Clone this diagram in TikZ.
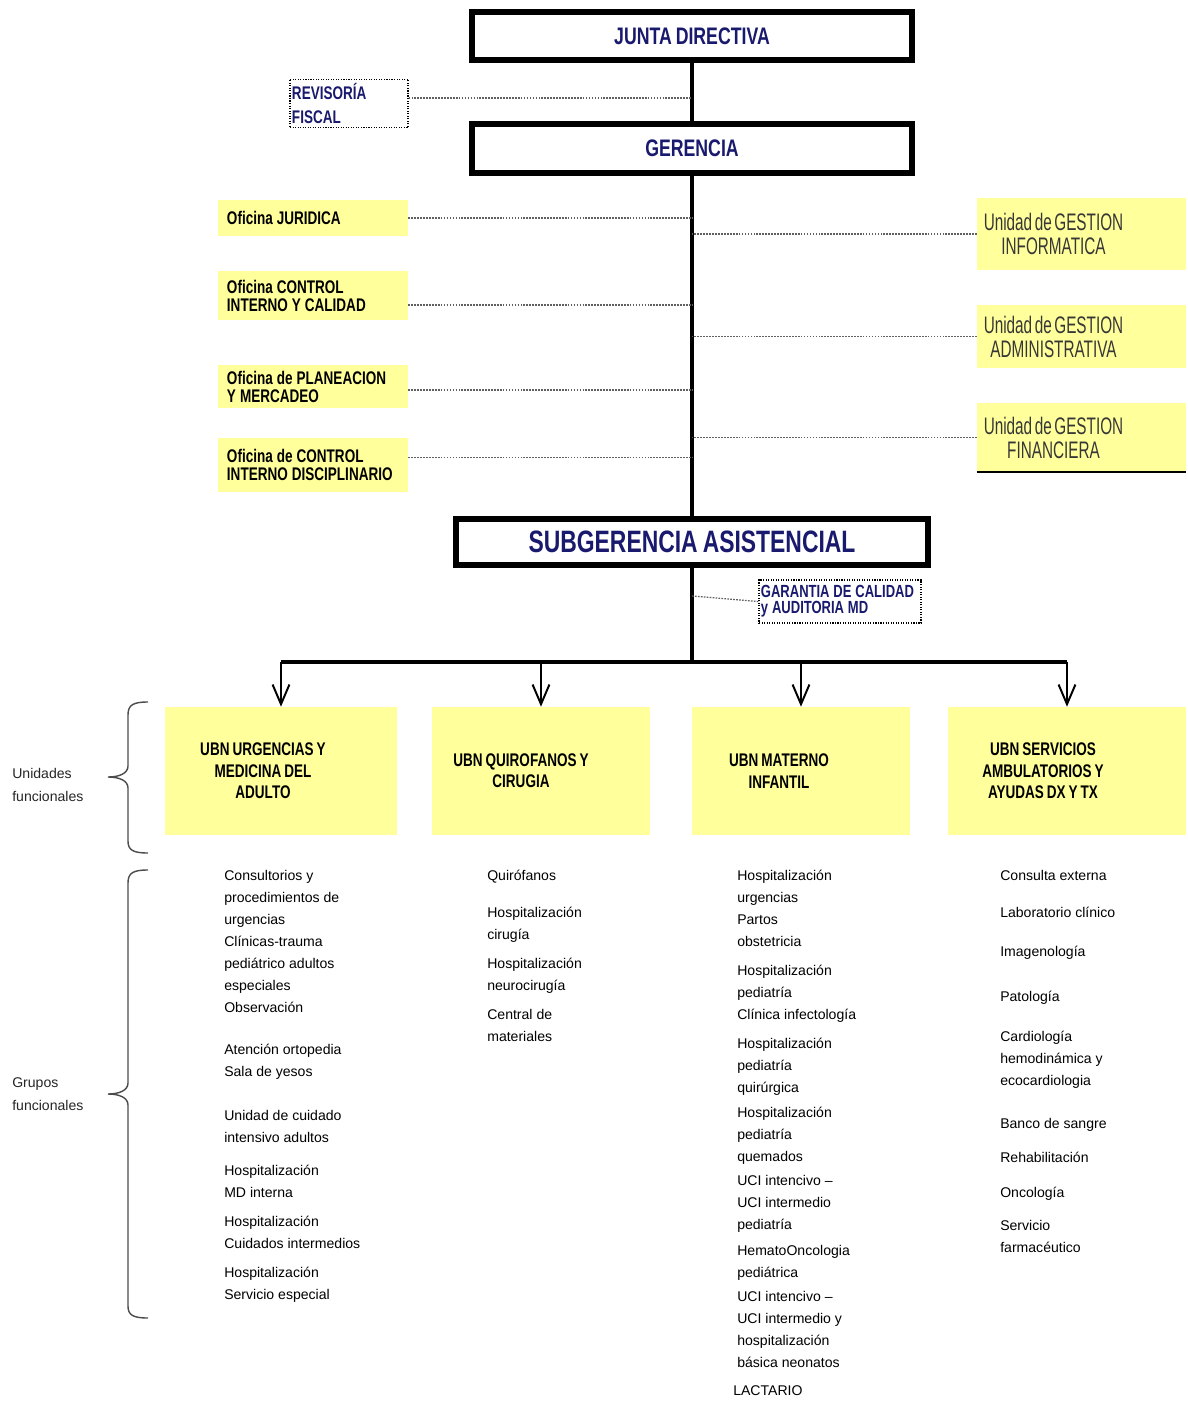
\documentclass[tikz,border=0pt]{standalone}
\usepackage{fontspec}
\setmainfont{Liberation Sans}
\newfontfamily\condfont[FakeStretch=0.74, WordSpace=0.8]{Liberation Sans}
\newfontfamily\unitfont[FakeStretch=0.64, WordSpace=0.6]{Liberation Sans}
\usetikzlibrary{arrows.meta}
\definecolor{navytext}{RGB}{25,25,110}
\definecolor{boxyellow}{RGB}{255,255,155}
\definecolor{unitgray}{RGB}{55,55,55}

\begin{document}
\begin{tikzpicture}
        [
            x                       = 0.025cm,
            y                       = -0.025cm,
            headbox/.style          = {shape=rectangle, draw, line width=4.3pt, fill=white, text=navytext,
                                       font=\condfont\bfseries\fontsize{17}{17}\selectfont,
                                       path picture={\fill (path picture bounding box.north west) rectangle ([yshift=-4.5pt]path picture bounding box.north east);
                                                     \fill (path picture bounding box.south west) rectangle ([yshift=4.5pt]path picture bounding box.south east);}},
            dashbox/.style          = {shape=rectangle, draw, densely dotted, line width=0.8pt, inner xsep=1pt, align=left, text=navytext,
                                       execute at begin node={\spaceskip=0.22em\relax}},
            officebox/.style        = {shape=rectangle, fill=boxyellow, minimum width=4.75cm, text width=4.3cm, align=left, inner sep=0pt,
                                       font=\condfont\bfseries\fontsize{13}{12.8}\selectfont, execute at begin node={\spaceskip=0.22em\relax}},
            unitbox/.style          = {shape=rectangle, fill=boxyellow, minimum width=5.225cm},
            unittext/.style         = {align=center, text=unitgray, font=\unitfont\fontsize{17}{17}\selectfont},
            ubnbox/.style           = {shape=rectangle, fill=boxyellow, minimum height=3.2cm},
            ubntext/.style          = {align=center, font=\condfont\bfseries\fontsize{13}{15.2}\selectfont},
            listtext/.style         = {anchor=north west, align=left, inner sep=0pt, font=\fontsize{10}{15.6}\selectfont},
            sidetext/.style         = {anchor=west, align=left, inner sep=0pt, text=gray!30!black, font=\fontsize{10}{16}\selectfont},
            dotline/.style          = {draw=gray!75!black, line width=0.9pt, dash pattern=on 1.2pt off 0.9pt},
            trunk/.style            = {draw, line width=3pt},
            ubnarrow/.style         = {draw, line width=1.4pt, -{Straight Barb[length=14pt, width=12pt]}},
            groupbrace/.style       = {draw=gray!60!black, line width=1pt},
        ]
        \useasboundingbox [fill=white] (0,0) rectangle (1188,1401);

        % direction
        \node [headbox, minimum width=10.975cm, minimum height=1.2cm] (junta) at (692,36) {JUNTA DIRECTIVA};
        \node [headbox, minimum width=10.975cm, minimum height=1.225cm] (gerencia) at (692,148.5) {GERENCIA};
        \node [headbox, minimum width=11.775cm, minimum height=1.15cm, font=\condfont\bfseries\fontsize{22}{22}\selectfont] (subger) at (692,542) {SUBGERENCIA ASISTENCIAL};
        \node [dashbox, minimum width=2.95cm, minimum height=1.125cm, text width=2.85cm,
               font=\condfont\bfseries\fontsize{13}{16.4}\selectfont] (revisoria) at (349,103.5) {REVISORÍA\\FISCAL};
        \node [dashbox, minimum width=4.05cm, minimum height=1.075cm, text width=3.95cm,
               font=\condfont\bfseries\fontsize{12.5}{11.5}\selectfont] (garantia) at (840,601.5) {GARANTIA DE CALIDAD\\y AUDITORIA MD};

        % oficinas
        \node [officebox, minimum height=0.9cm] (ofjur) at (313,218) {Oficina JURIDICA};
        \node [officebox, minimum height=1.225cm] (ofcal) at (313,295.5) {Oficina CONTROL\\INTERNO Y CALIDAD};
        \node [officebox, minimum height=1.075cm] (ofplan) at (313,386.5) {Oficina de PLANEACION\\Y MERCADEO};
        \node [officebox, minimum height=1.35cm] (ofdisc) at (313,465) {Oficina de CONTROL\\INTERNO DISCIPLINARIO};

        % unidades de gestion
        \node [unitbox, minimum height=1.8cm] (unitinf) at (1081.5,234) {};
        \node [unittext] (unitinftxt) at ([xshift=-0.7cm]unitinf.center) {Unidad de GESTION\\INFORMATICA};
        \node [unitbox, minimum height=1.575cm] (unitadm) at (1081.5,336.5) {};
        \node [unittext] (unitadmtxt) at ([xshift=-0.7cm]unitadm.center) {Unidad de GESTION\\ADMINISTRATIVA};
        \node [unitbox, minimum height=1.725cm] (unitfin) at (1081.5,437.5) {};
        \node [unittext] (unitfintxt) at ([xshift=-0.7cm]unitfin.center) {Unidad de GESTION\\FINANCIERA};
        \draw [line width=1.5pt] (unitfin.south west) -- (unitfin.south east);

        % UBN
        \node [ubnbox, minimum width=5.8cm] (ubnurg) at (281,771) {};
        \node [ubntext] (ubnurgtxt) at ([xshift=-0.45cm]ubnurg.center) {UBN URGENCIAS Y\\MEDICINA DEL\\ADULTO};
        \node [ubnbox, minimum width=5.45cm] (ubnqx) at (541,771) {};
        \node [ubntext] (ubnqxtxt) at ([xshift=-0.5cm]ubnqx.center) {UBN QUIROFANOS Y\\CIRUGIA};
        \node [ubnbox, minimum width=5.45cm] (ubnmat) at (801,771) {};
        \node [ubntext] (ubnmattxt) at ([xshift=-0.55cm]ubnmat.center) {UBN MATERNO\\INFANTIL};
        \node [ubnbox, minimum width=5.95cm] (ubnamb) at (1067,771) {};
        \node [ubntext] (ubnambtxt) at ([xshift=-0.6cm]ubnamb.center) {UBN SERVICIOS\\AMBULATORIOS Y\\AYUDAS DX Y TX};

        % lines
        \draw [trunk, line width=2.8pt] (junta) -- (gerencia);
        \draw [trunk, line width=3.5pt] (gerencia) -- (subger);
        \coordinate (hub) at (692,662);
        \coordinate (gartap) at (692,596);
        \draw [trunk, line width=2.2pt] (subger) -- (hub);
        \draw [trunk, line width=2.2pt] (hub -| ubnurg.north) -- (hub -| ubnamb.north);
        \foreach \ubn in {ubnurg, ubnqx, ubnmat, ubnamb}
            \draw [ubnarrow] (hub -| \ubn.north) -- (\ubn.north);

        \draw [dotline] ([yshift=0.14cm]revisoria.east) -- ([yshift=0.14cm]revisoria.east -| junta.south);
        \draw [dotline] (ofjur.east) -- (ofjur.east -| gerencia.south);
        \draw [dotline] ([yshift=-0.24cm]ofcal.east) -- ([yshift=-0.24cm]ofcal.east -| gerencia.south);
        \draw [dotline] ([yshift=-0.09cm]ofplan.east) -- ([yshift=-0.09cm]ofplan.east -| gerencia.south);
        \draw [dotline] ([yshift=0.18cm]ofdisc.east) -- ([yshift=0.18cm]ofdisc.east -| gerencia.south);
        \draw [dotline] (unitinf.west) -- (unitinf.west -| gerencia.south);
        \draw [dotline] (unitadm.west) -- (unitadm.west -| gerencia.south);
        \draw [dotline] (unitfin.west) -- (unitfin.west -| gerencia.south);
        \draw [dotline] (gartap) -- (garantia.west);

        % braces
        \draw [groupbrace] (148,702) .. controls (133,702) and (128,705) .. (128,715) -- (128,766)
            .. controls (128,773) and (120,777) .. (108,777) .. controls (120,777) and (128,781) .. (128,788)
            -- (128,841) .. controls (128,850) and (133,853) .. (148,853);
        \draw [groupbrace] (148,870) .. controls (133,870) and (128,873) .. (128,883) -- (128,1083)
            .. controls (128,1090) and (120,1094) .. (108,1094) .. controls (120,1094) and (128,1098) .. (128,1105)
            -- (128,1306) .. controls (128,1315) and (133,1318) .. (148,1318);
        \node [sidetext] (unidades) at (12,785) {Unidades\\funcionales};
        \node [sidetext] (grupos) at (12,1094) {Grupos\\funcionales};

        % grupos funcionales
        \foreach \y/\txt [count=\i] in {870/{Consultorios y\\procedimientos de\\urgencias\\Clínicas-trauma\\pediátrico adultos\\especiales\\Observación},
                                       1044/{Atención ortopedia\\Sala de yesos},
                                       1110/{Unidad de cuidado\\intensivo adultos},
                                       1165/{Hospitalización\\MD interna},
                                       1216/{Hospitalización\\Cuidados intermedios},
                                       1267/{Hospitalización\\Servicio especial}}
            \node [listtext] (urg\i) at (224,\y) {\txt};
        \foreach \y/\txt [count=\i] in {870/{Quirófanos},
                                       907/{Hospitalización\\cirugía},
                                       958/{Hospitalización\\neurocirugía},
                                       1009/{Central de\\materiales}}
            \node [listtext] (qx\i) at (487,\y) {\txt};
        \foreach \y/\txt [count=\i] in {870/{Hospitalización\\urgencias\\Partos\\obstetricia},
                                       965/{Hospitalización\\pediatría\\Clínica infectología},
                                       1038/{Hospitalización\\pediatría\\quirúrgica},
                                       1107/{Hospitalización\\pediatría\\quemados},
                                       1175/{UCI intencivo –\\UCI intermedio\\pediatría},
                                       1245/{HematoOncologia\\pediátrica},
                                       1291/{UCI intencivo –\\UCI intermedio y\\hospitalización\\básica neonatos}}
            \node [listtext] (mat\i) at (737,\y) {\txt};
        \node [listtext] (lactario) at (733,1385) {LACTARIO};
        \foreach \y/\txt [count=\i] in {870/{Consulta externa},
                                       907/{Laboratorio clínico},
                                       946/{Imagenología},
                                       991/{Patología},
                                       1031/{Cardiología\\hemodinámica y\\ecocardiologia},
                                       1118/{Banco de sangre},
                                       1152/{Rehabilitación},
                                       1187/{Oncología},
                                       1220/{Servicio\\farmacéutico}}
            \node [listtext] (amb\i) at (1000,\y) {\txt};
\end{tikzpicture}
\end{document}
